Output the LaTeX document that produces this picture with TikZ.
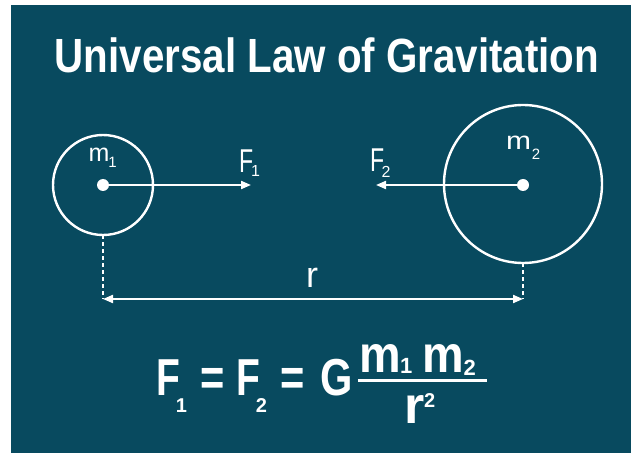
\documentclass[tikz,border=0pt]{standalone}
\usepackage{fontspec}
\setmainfont{Liberation Sans}
\usepackage{graphicx}
\usetikzlibrary{arrows.meta}
\definecolor{bgteal}{HTML}{084A5F}
\newcommand{\narrowtext}[2][0.84]{\scalebox{#1}[1]{#2}}
% \attachidx{kern}{raise}{size}{index}
\newcommand{\attachidx}[4]{\kern#1\raisebox{#2}{\fontsize{#3}{#3}\selectfont #4}}
\begin{document}
\begin{tikzpicture}[x=1pt,y=-1pt,
  txt/.style={text=white, inner sep=0pt, outer sep=0pt},
  boldtxt/.style={txt, font=\bfseries\fontsize{#1}{#1}\selectfont},
  regtxt/.style={txt, font=\fontsize{#1}{#1}\selectfont},
  body/.style={circle, draw=white, line width=2.4pt, inner sep=0pt, outer sep=0pt, minimum size=#1},
  dot/.style={circle, fill=white, inner sep=0pt, minimum size=12pt},
  force/.style={draw=white, line width=2pt, -{Triangle[length=10pt,width=8pt]}},
  dist/.style={draw=white, line width=2pt, {Triangle[length=10pt,width=8pt]}-{Triangle[length=10pt,width=8pt]}},
  guide/.style={draw=white, line width=1.6pt, dash pattern=on 4pt off 3pt},
  fracbar/.style={draw=white, line width=3pt}
]
\useasboundingbox (0,0) rectangle (631,454);
\fill[white] (0,0) rectangle (631,454);
\fill[bgteal] (11,5) rectangle (631,453);

% title
\node[boldtxt=48] (title) at (327,55) {\narrowtext{Universal Law of Gravitation}};

% bodies
\node[body=100pt] (c1) at (103,185) {};
\node[body=158pt] (c2) at (523,184) {};
\node[dot] (d1) at (103,185) {};
\node[dot] (d2) at (523,185) {};

% forces
\coordinate (f1end) at (251,185);
\coordinate (f2end) at (376,185);
\draw[force] (d1.center) -- (f1end);
\draw[force] (d2.center) -- (f2end);

% labels
\node[regtxt=25, anchor=base west] (m1) at (88.5,162) {m\attachidx{-1pt}{-6pt}{15}{1}};
\node[regtxt=25, anchor=base west] (m2) at (506,150) {\narrowtext[1.2]{m}\attachidx{1pt}{-10pt}{15}{2}};
\node[regtxt=33, anchor=base west] (F1) at (239,173) {\narrowtext[0.7]{F}\attachidx{-2pt}{-4pt}{16}{1}};
\node[regtxt=33, anchor=base west] (F2) at (370,172) {\narrowtext[0.7]{F}\attachidx{-2.5pt}{-6pt}{16}{2}};

% distance
\coordinate (rl) at (103,299);
\coordinate (rr) at (523,299);
\draw[guide] (c1.south) -- (rl);
\draw[guide] (c2.south) -- (rr);
\draw[dist] (rl) -- (rr);
\node[regtxt=36] (r) at (312,277.5) {r};

% formula
\node[boldtxt=52, anchor=base west] (Fa) at (156,395) {\narrowtext[0.75]{F}\attachidx{-4pt}{-17pt}{20}{1}};
\node[boldtxt=52] (eq1) at (213,382) {\narrowtext[0.8]{=}};
\node[boldtxt=52, anchor=base west] (Fb) at (236,395) {\narrowtext[0.75]{F}\attachidx{-4pt}{-17pt}{20}{2}};
\node[boldtxt=52] (eq2) at (293,382) {\narrowtext[0.8]{=}};
\node[boldtxt=52] (G) at (337,377.5) {\narrowtext[0.8]{G}};
\coordinate (barl) at (358,380);
\coordinate (barr) at (487,380);
\draw[fracbar] (barl) -- (barr);
\node[boldtxt=52, anchor=base west] (n1) at (359,372) {\narrowtext[0.9]{m}\attachidx{-0.5pt}{-1pt}{22}{1}};
\node[boldtxt=52, anchor=base west] (n2) at (422,372) {\narrowtext[0.9]{m}\attachidx{0pt}{-3pt}{22}{2}};
\node[boldtxt=52, anchor=base west] (den) at (404,423) {r\attachidx{0pt}{16pt}{20}{2}};
\end{tikzpicture}
\end{document}
